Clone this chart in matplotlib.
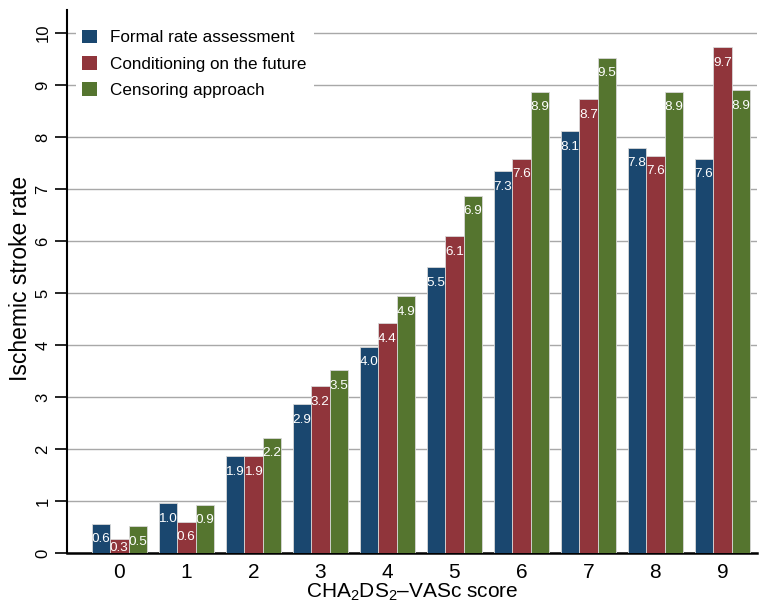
import matplotlib
matplotlib.use("Agg")
import matplotlib.pyplot as plt
import numpy as np
from matplotlib.patches import Patch

plt.rcParams['font.family'] = ['Liberation Sans', 'DejaVu Sans']
plt.rcParams['mathtext.fontset'] = 'custom'
plt.rcParams['mathtext.rm'] = 'Liberation Sans'
plt.rcParams['mathtext.it'] = 'Liberation Sans'

scores = ['0', '1', '2', '3', '4', '5', '6', '7', '8', '9']
series_names = ['Formal rate assessment', 'Conditioning on the future', 'Censoring approach']
formal = [0.56, 0.96, 1.86, 2.86, 3.97, 5.49, 7.34, 8.11, 7.79, 7.58]
conditioning = [0.27, 0.60, 1.86, 3.21, 4.42, 6.09, 7.58, 8.73, 7.64, 9.73]
censoring = [0.52, 0.93, 2.22, 3.51, 4.94, 6.87, 8.87, 9.52, 8.87, 8.90]
colors = ['#1a476f', '#90353b', '#55752f']

fig = plt.figure(figsize=(7.66, 6.04), dpi=100)
ax = fig.add_axes([0.0875, 0.0844, 0.901, 0.899])

x = np.arange(len(scores))
w = 0.275
for i, (vals, c, name) in enumerate(zip([formal, conditioning, censoring], colors, series_names)):
    xs = x + (i - 1) * w
    ax.bar(xs, vals, width=w, color=c, edgecolor='#d8d8d8', linewidth=0.6, zorder=3, label=name)
    for xi, v in zip(xs, vals):
        ax.text(xi, max(v - 0.30, 0.09), f'{v:.1f}', ha='center', va='center',
                color='white', fontsize=9.7, zorder=4)

ax.set_xlim(-0.78, 9.52)
ax.set_ylim(0, 10.44)
ax.set_yticks(range(0, 11))
ax.set_xticks(x)
ax.set_xticklabels(scores, fontsize=15)
ax.tick_params(axis='x', length=0, pad=7)
ax.tick_params(axis='y', length=9, width=1.2, labelsize=12, pad=3)
for lbl in ax.get_yticklabels():
    lbl.set_rotation(90)
    lbl.set_va('center')
ax.yaxis.grid(True, color='#a8a8a8', linewidth=1.0, zorder=0)
ax.set_axisbelow(True)
for s in ['top', 'right']:
    ax.spines[s].set_visible(False)
ax.spines['left'].set_linewidth(1.5)
ax.spines['bottom'].set_linewidth(1.8)

ax.set_ylabel('Ischemic stroke rate', fontsize=16.5)
ax.yaxis.set_label_coords(-0.051, 0.506)
ax.set_xlabel(r'CHA$_\mathregular{2}$DS$_\mathregular{2}$–VASc score', fontsize=15)
ax.xaxis.set_label_coords(0.5, -0.052)

handles = [Patch(facecolor=c, edgecolor='none') for c in colors]
leg = ax.legend(handles, series_names, loc='upper left', bbox_to_anchor=(0.0, 0.992),
                frameon=True, fontsize=12.3, handlelength=0.85, handleheight=0.85,
                handletextpad=0.78, labelspacing=0.62, borderpad=0.4)
leg.get_frame().set_facecolor('white')
leg.get_frame().set_edgecolor('none')
leg.get_frame().set_alpha(1)
leg.set_zorder(5)

fig.savefig('out.png', dpi=100)
